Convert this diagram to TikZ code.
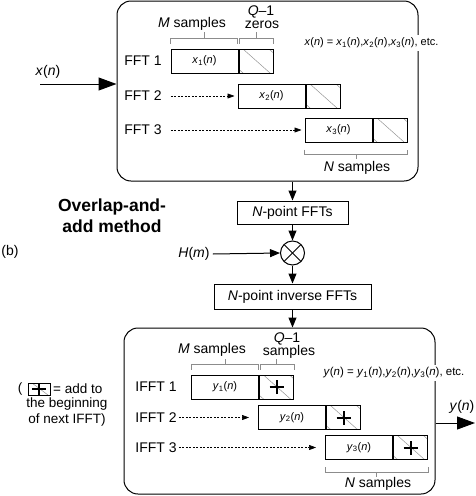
\documentclass[tikz,border=0pt]{standalone}
\usepackage{fontspec}
\setmainfont{Liberation Sans}
\usetikzlibrary{arrows.meta,calc}
\newcommand{\vv}[1]{\textit{#1}}
\newcommand{\sub}[1]{\textsubscript{#1}}
\definecolor{hatchgray}{RGB}{150,150,150}
\definecolor{brkgray}{RGB}{140,140,140}
\begin{document}
\begin{tikzpicture}[x=1pt,y=-1pt,
  lbl/.style={font=\fontsize{14}{16}\selectfont, inner sep=0pt},
  lblm/.style={font=\fontsize{13.5}{15}\selectfont, inner sep=0pt},
  small/.style={font=\fontsize{11}{13}\selectfont, fill=white, inner xsep=1pt, inner ysep=3pt},
  cont/.style={draw, line width=1pt, rounded corners=14pt, inner sep=0pt},
  procbox/.style={draw, line width=1pt, inner sep=0pt, font=\fontsize{14}{16}\selectfont},
  mbox/.style={draw, line width=1pt, minimum width=67pt, minimum height=24pt, inner sep=0pt, font=\fontsize{11}{13}\selectfont},
  hatch/.style={draw=hatchgray, line width=0.5pt},
  qbox/.style={draw, line width=1pt, minimum width=34pt, minimum height=24pt, inner sep=0pt, anchor=west,
    path picture={
      \foreach \o in {-23pt,4pt,30pt}
        \draw[hatch] ([xshift=\o]path picture bounding box.north west) -- ++(27pt,-24pt);
    }},
  qplus/.style={draw, line width=1pt, minimum width=34pt, minimum height=24pt, inner sep=0pt, anchor=west,
    path picture={
      \foreach \o in {-23pt,4pt,30pt}
        \draw[hatch] ([xshift=\o]path picture bounding box.north west) -- ++(27pt,-24pt);
      \draw[line width=2pt] ([xshift=-7pt]path picture bounding box.center) -- ([xshift=7pt]path picture bounding box.center);
      \draw[line width=2pt] ([yshift=-7pt]path picture bounding box.center) -- ([yshift=7pt]path picture bounding box.center);
    }},
  legbox/.style={draw, line width=1pt, minimum width=22pt, minimum height=12pt, inner sep=0pt,
    path picture={
      \draw[hatch] ([xshift=4pt]path picture bounding box.north west) -- ++(16pt,-12pt);
      \draw[line width=1.8pt] ([xshift=-7pt]path picture bounding box.center) -- ([xshift=7pt]path picture bounding box.center);
      \draw[line width=1.8pt] ([yshift=-6pt]path picture bounding box.center) -- ([yshift=6pt]path picture bounding box.center);
    }},
  mult/.style={draw, line width=1pt, circle, minimum size=24pt, inner sep=0pt,
    path picture={
      \draw[line width=1pt] (path picture bounding box.north west) -- (path picture bounding box.south east);
      \draw[line width=1pt] (path picture bounding box.north east) -- (path picture bounding box.south west);
    }},
  brk/.style={draw=brkgray, line width=0.8pt},
  bigarr/.style={line width=1pt, -{Triangle[length=18pt,width=13pt]}},
  medarr/.style={line width=1pt, -{Triangle[length=10pt,width=8pt]}},
  dasharr/.style={line width=0.6pt, dash pattern=on 2pt off 1.5pt, -{Triangle[length=7pt,width=5pt]}}
]
\useasboundingbox (0,0) rectangle (475,496);

% ===== top container =====
\node[cont, minimum width=301pt, minimum height=180pt] (top) at (267.5,91) {};

\node[lbl] (l1) at (143,61) {FFT 1};
\node[lbl] (l2) at (143,96) {FFT 2};
\node[lbl] (l3) at (143,130) {FFT 3};

\node[mbox] (f1m) at (204.5,61) {\vv{x}\sub{1}(\vv{n})};
\node[qbox] (f1q) at (f1m.east) {};
\node[mbox] (f2m) at (271.5,96) {\vv{x}\sub{2}(\vv{n})};
\node[qbox] (f2q) at (f2m.east) {};
\node[mbox] (f3m) at (338.5,130) {\vv{x}\sub{3}(\vv{n})};
\node[qbox] (f3q) at (f3m.east) {};

\draw[dasharr] ([xshift=9pt]l2.east) -- ([xshift=-3pt]f2m.west);
\draw[dasharr] ([xshift=9pt]l3.east) -- ([xshift=-3pt]f3m.west);

% brackets top
\draw[brk] ([yshift=5pt]f1m.north west) -- ([yshift=10pt]f1m.north west) -- ([xshift=-1pt,yshift=10pt]f1m.north east) -- ([xshift=-1pt,yshift=5pt]f1m.north east);
\draw[brk] ([yshift=10pt]f1m.north) -- ([yshift=17pt]f1m.north);
\draw[brk] ([xshift=1pt,yshift=5pt]f1q.north west) -- ([xshift=1pt,yshift=10pt]f1q.north west) -- ([yshift=10pt]f1q.north east) -- ([yshift=5pt]f1q.north east);
\draw[brk] ([yshift=10pt]f1q.north) -- ([yshift=17pt]f1q.north);
\draw[brk] ([yshift=-7pt]f3m.south west) -- ([yshift=-12pt]f3m.south west) -- ([yshift=-12pt]f3q.south east) -- ([yshift=-7pt]f3q.south east);
\draw[brk] ($(f3m.south west)!0.5!(f3q.south east)+(0,12)$) -- ++(0,4);

\node[lbl] (tms) at (192,24) {\vv{M} samples};
\node[lbl] (tq) at (261,12) {\vv{Q}–1};
\node[lbl] (tz) at (262,25) {zeros};
\node[small] (teq) at (371.5,43) {\vv{x}(\vv{n}) = \vv{x}\sub{1}(\vv{n}),\vv{x}\sub{2}(\vv{n}),\vv{x}\sub{3}(\vv{n}), etc.};
\node[lbl] (tns) at (357,168) {\vv{N} samples};

% input
\node[lbl] (xn) at (48,72) {\vv{x}(\vv{n})};
\coordinate (xs) at (40,84);
\draw[bigarr] (xs) -- (xs -| top.west);

% ===== middle chain =====
\node[procbox, minimum width=111pt, minimum height=23pt] (fft) at (292.5,212.5) {\vv{N}-point FFTs};
\node[mult] (mul) at (292.5,253) {};
\node[lbl] (hm) at (194,254) {\vv{H}(\vv{m})};
\node[procbox, minimum width=157pt, minimum height=25pt] (ifft) at (292.5,296.5) {\vv{N}-point inverse FFTs};

\draw[medarr] (top.south -| fft.north) -- (fft.north);
\draw[medarr] (fft.south) -- (mul.north);
\draw[medarr] ([xshift=3pt]hm.east) -- (mul.west);
\draw[medarr] (mul.south) -- (ifft.north);

\node[font=\fontsize{17.5}{21}\selectfont\bfseries, align=center, inner sep=0pt] (title) at (112,215.5) {Overlap-and-\\add method};
\node[lbl] (b) at (10,252) {(b)};

% ===== bottom container =====
\node[cont, minimum width=311pt, minimum height=166pt] (bot) at (279.5,411) {};
\draw[medarr] (ifft.south) -- (ifft.south |- bot.north);

\node[lbl] (k1) at (156,387) {IFFT 1};
\node[lbl] (k2) at (156,417.5) {IFFT 2};
\node[lbl] (k3) at (156,447.5) {IFFT 3};

\node[mbox] (i1m) at (225,387) {\vv{y}\sub{1}(\vv{n})};
\node[qplus] (i1q) at (i1m.east) {};
\node[mbox] (i2m) at (292,417.5) {\vv{y}\sub{2}(\vv{n})};
\node[qplus] (i2q) at (i2m.east) {};
\node[mbox] (i3m) at (359,447.5) {\vv{y}\sub{3}(\vv{n})};
\node[qplus] (i3q) at (i3m.east) {};

\draw[dasharr] ([xshift=2pt]k2.east) -- ([xshift=-9pt]i2m.west);
\draw[dasharr] ([xshift=2pt]k3.east) -- ([xshift=-9pt]i3m.west);

\draw[brk] ([yshift=5pt]i1m.north west) -- ([yshift=10pt]i1m.north west) -- ([xshift=-1pt,yshift=10pt]i1m.north east) -- ([xshift=-1pt,yshift=5pt]i1m.north east);
\draw[brk] ([yshift=10pt]i1m.north) -- ([yshift=16pt]i1m.north);
\draw[brk] ([xshift=1pt,yshift=5pt]i1q.north west) -- ([xshift=1pt,yshift=10pt]i1q.north west) -- ([yshift=10pt]i1q.north east) -- ([yshift=5pt]i1q.north east);
\draw[brk] ([yshift=10pt]i1q.north) -- ([yshift=16pt]i1q.north);
\draw[brk] ([yshift=-7pt]i3m.south west) -- ([yshift=-12pt]i3m.south west) -- ([yshift=-12pt]i3q.south east) -- ([yshift=-7pt]i3q.south east);
\draw[brk] ($(i3m.south west)!0.5!(i3q.south east)+(0,12)$) -- ++(0,5);

\node[lbl] (bms) at (212,350) {\vv{M} samples};
\node[lbl] (bq) at (287,339) {\vv{Q}–1};
\node[lbl] (bsa) at (289,352) {samples};
\node[small, font=\fontsize{11.5}{13}\selectfont] (beq) at (394,373) {\vv{y}(\vv{n}) = \vv{y}\sub{1}(\vv{n}),\vv{y}\sub{2}(\vv{n}),\vv{y}\sub{3}(\vv{n}), etc.};
\node[lbl] (bns) at (378,484) {\vv{N} samples};

% output
\coordinate (yend) at (475,423);
\draw[bigarr] (yend -| bot.east) -- (yend);
\node[lbl] (yn) at (462,407) {\vv{y}(\vv{n})};

% legend
\node[lblm] (lp) at (20,389) {(};
\node[legbox] (lgb) at (39,389) {};
\node[lblm, anchor=west] (la) at (53,389) {= add to};
\node[lblm] (lbeg) at (67,404) {the beginning};
\node[lblm] (lnext) at (67,420) {of next IFFT)};
\end{tikzpicture}
\end{document}
